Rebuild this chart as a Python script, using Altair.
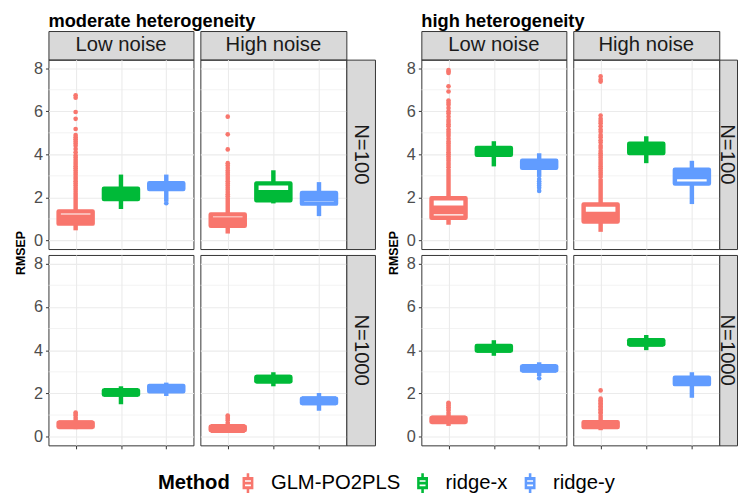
import altair as alt
import pandas as pd

FONT = "Liberation Sans"
METHODS = ["GLM-PO2PLS", "ridge-x", "ridge-y"]
COLORS = ["#F8766D", "#00BA38", "#619CFF"]
GROUPS = ["moderate heterogeneity", "high heterogeneity"]
SIZES = ["N=100", "N=1000"]
NOISES = ["Low noise", "High noise"]
Y_TICKS = [0, 2, 4, 6, 8]
Y_MINOR = [1, 3, 5, 7]

# order: group > size > noise > method
LOWER = [0.47, 1.46, 1.80,  0.32, 1.72, 1.13,
         0.35, 1.50, 1.88,  0.20, 2.33, 1.20,
         0.73, 3.44, 2.95,  0.40, 3.59, 1.69,
         0.50, 3.74, 2.80,  0.30, 4.00, 1.80]
Q1 = [0.78, 1.92, 2.39,  0.68, 1.87, 1.71,
      0.46, 1.95, 2.10,  0.31, 2.56, 1.56,
      1.05, 3.98, 3.38,  0.88, 4.06, 2.64,
      0.69, 3.98, 3.07,  0.45, 4.27, 2.43]
MEDIAN = [1.00, 2.15, 2.50,  0.87, 2.14, 2.03,
          0.55, 2.05, 2.22,  0.38, 2.66, 1.66,
          1.42, 4.10, 3.50,  1.13, 4.25, 3.05,
          0.78, 4.08, 3.16,  0.56, 4.36, 2.58]
Q3 = [1.35, 2.40, 2.66,  1.21, 2.65, 2.20,
      0.65, 2.14, 2.35,  0.46, 2.76, 1.76,
      1.96, 4.30, 3.70,  1.67, 4.49, 3.29,
      0.87, 4.19, 3.25,  0.67, 4.46, 2.73]
UPPER = [2.20, 3.06, 3.06,  2.00, 3.26, 2.71,
         0.93, 2.33, 2.50,  0.68, 2.98, 2.02,
         3.33, 4.61, 4.05,  2.86, 4.84, 3.70,
         1.14, 4.46, 3.44,  1.00, 4.70, 2.98]

OUT_MOD_100_LOW_GLM = [2.25, 2.35, 2.45, 2.55, 2.65, 2.75, 2.85, 2.95, 3.05, 3.15, 3.25,
                       3.35, 3.45, 3.55, 3.65, 3.75, 3.85, 3.95, 4.1, 4.25, 4.4, 4.5,
                       4.6, 4.7, 4.8, 4.9, 5.18, 5.65, 5.97, 6.63, 6.74]
OUT_MOD_100_LOW_RY = [1.73]
OUT_MOD_100_HIGH_GLM = [2.05, 2.15, 2.25, 2.35, 2.45, 2.55, 2.65, 2.75, 2.85, 2.95, 3.05,
                        3.15, 3.25, 3.36, 3.48, 3.59, 4.23, 4.93, 5.75]
OUT_MOD_1000_LOW_GLM = [0.98, 1.05, 1.12]
OUT_MOD_1000_HIGH_GLM = [0.75, 0.83, 0.91, 0.98]
OUT_HIGH_100_LOW_GLM = [3.4, 3.5, 3.6, 3.7, 3.8, 3.9, 4.0, 4.1, 4.2, 4.3, 4.4, 4.5, 4.6,
                        4.72, 4.85, 4.95, 5.05, 5.15, 5.3, 5.4, 5.5, 5.6, 5.75, 5.9, 6.0,
                        6.15, 6.3, 6.4, 6.5, 6.92, 7.16, 7.78, 7.85, 7.92]
OUT_HIGH_100_LOW_RY = [2.85, 2.75, 2.65, 2.55, 2.45, 2.3]
OUT_HIGH_100_HIGH_GLM = [2.95, 3.05, 3.15, 3.25, 3.35, 3.45, 3.55, 3.65, 3.75, 3.85, 3.95,
                         4.05, 4.15, 4.3, 4.4, 4.55, 4.65, 4.8, 4.9, 5.05, 5.15, 5.3, 5.45,
                         5.55, 5.65, 5.8, 7.38, 7.47, 7.62]
OUT_HIGH_1000_LOW_GLM = [1.2, 1.28, 1.36, 1.44, 1.52, 1.57]
OUT_HIGH_1000_LOW_RY = [2.7]
OUT_HIGH_1000_HIGH_GLM = [1.06, 1.13, 1.2, 1.27, 1.34, 1.41, 1.48, 1.55, 1.62, 1.69, 1.76, 2.14]

OUTLIERS = {
    (0, 0, 0, 0): OUT_MOD_100_LOW_GLM,
    (0, 0, 0, 2): OUT_MOD_100_LOW_RY,
    (0, 0, 1, 0): OUT_MOD_100_HIGH_GLM,
    (0, 1, 0, 0): OUT_MOD_1000_LOW_GLM,
    (0, 1, 1, 0): OUT_MOD_1000_HIGH_GLM,
    (1, 0, 0, 0): OUT_HIGH_100_LOW_GLM,
    (1, 0, 0, 2): OUT_HIGH_100_LOW_RY,
    (1, 0, 1, 0): OUT_HIGH_100_HIGH_GLM,
    (1, 1, 0, 0): OUT_HIGH_1000_LOW_GLM,
    (1, 1, 0, 2): OUT_HIGH_1000_LOW_RY,
    (1, 1, 1, 0): OUT_HIGH_1000_HIGH_GLM,
}

rows = []
i = 0
for gi, g in enumerate(GROUPS):
    for si, s in enumerate(SIZES):
        for ni, nz in enumerate(NOISES):
            for mi, m in enumerate(METHODS):
                rows.append(dict(group=g, nsize=s, noise=nz, method=m, lo=LOWER[i],
                                 q1=Q1[i], med=MEDIAN[i], q3=Q3[i], hi=UPPER[i]))
                i += 1
box_df = pd.DataFrame(rows)

orows = []
for (gi, si, ni, mi), vals in OUTLIERS.items():
    for v in vals:
        orows.append(dict(group=GROUPS[gi], nsize=SIZES[si], noise=NOISES[ni],
                          method=METHODS[mi], v=v))
out_df = pd.DataFrame(orows)

GRID = "#EBEBEB"
BORDER = "#333333"
STRIP_FILL = "#D9D9D9"
BOXW = 34.5
LW = 4.5

SYMBOL = ("M-0.55,-0.62L0.55,-0.62L0.55,0.62L-0.55,0.62Z"
          "M-0.3,-0.3L-0.3,0.3L0.3,0.3L0.3,-0.3Z"
          "M-0.3,-0.14L0.3,-0.14L0.3,0.14L-0.3,0.14Z"
          "M-0.13,-1L0.13,-1L0.13,-0.62L-0.13,-0.62Z"
          "M-0.13,0.62L0.13,0.62L0.13,1L-0.13,1Z")

LEGEND = alt.Legend(title="Method", orient="none", legendX=111, legendY=467,
                    direction="horizontal", titleOrient="left",
                    titleFont=FONT, titleFontSize=20.5, titleFontWeight="bold",
                    titleColor="black", labelFont=FONT, labelFontSize=20.5,
                    labelColor="black", symbolType=SYMBOL, symbolSize=400,
                    symbolStrokeWidth=0, symbolOpacity=1, labelOffset=13,
                    columnPadding=12, titlePadding=8, padding=0)

cscale = alt.Scale(domain=METHODS, range=COLORS)


def panel(gi, si, ni, w, h):
    g, s, nz = GROUPS[gi], SIZES[si], NOISES[ni]
    b = box_df[(box_df.group == g) & (box_df.nsize == s) & (box_df.noise == nz)]
    o = out_df[(out_df.group == g) & (out_df.nsize == s) & (out_df.noise == nz)]
    if len(o) == 0:
        o = pd.DataFrame({"method": pd.Series([], dtype=str), "v": pd.Series([], dtype=float)})
    left = ni == 0
    bottom = si == 1
    xs = alt.Scale(type="point", domain=METHODS, padding=0.6)
    ys = alt.Scale(domain=[-0.4, 8.4], nice=False, zero=False)
    xaxis = alt.Axis(title=None, labels=False, domain=False, grid=True,
                     gridColor=GRID, gridWidth=1.1, ticks=bottom, tickSize=3.5,
                     tickColor=BORDER, tickWidth=1)
    if left:
        ykw = dict(values=Y_TICKS, grid=True, gridColor=GRID, gridWidth=1.1,
                   domain=False, ticks=True, tickSize=3, tickColor=BORDER,
                   tickWidth=1, labelFont=FONT, labelFontSize=16.5,
                   labelColor="#4D4D4D", labelPadding=3)
        if si == 0:
            ykw.update(title="RMSEP", titleFont=FONT, titleFontSize=12.5,
                       titleFontWeight="bold", titleColor="black", titleX=-24,
                       titleY=195.5, titleBaseline="alphabetic", titleAlign="center")
        else:
            ykw.update(title=None)
        yaxis = alt.Axis(**ykw)
    else:
        yaxis = alt.Axis(values=Y_TICKS, grid=True, gridColor=GRID, gridWidth=1.1,
                         domain=False, ticks=False, labels=False, title=None)

    def X():
        return alt.X("method:N", scale=xs, axis=xaxis)

    def Y(f):
        return alt.Y(f, scale=ys, axis=yaxis)

    minor = alt.Chart(pd.DataFrame({"v": Y_MINOR})).mark_rule(
        color=GRID, strokeWidth=0.6).encode(y=Y("v:Q"))
    outl = alt.Chart(o).mark_circle(size=22, opacity=1).encode(
        x=X(), y=Y("v:Q"),
        color=alt.Color("method:N", scale=cscale, legend=LEGEND))
    wlo = alt.Chart(b).mark_rule(strokeWidth=LW).encode(
        x=X(), y=Y("lo:Q"), y2="q1:Q",
        color=alt.Color("method:N", scale=cscale, legend=None))
    whi = alt.Chart(b).mark_rule(strokeWidth=LW).encode(
        x=X(), y=Y("q3:Q"), y2="hi:Q",
        color=alt.Color("method:N", scale=cscale, legend=None))
    box = alt.Chart(b).mark_bar(width=BOXW, fill="white", strokeWidth=LW,
                                strokeJoin="round", opacity=1).encode(
        x=X(), y=Y("q1:Q"), y2="q3:Q",
        stroke=alt.Stroke("method:N", scale=cscale, legend=None))
    med = alt.Chart(b).mark_tick(thickness=9, size=BOXW, opacity=1).encode(
        x=X(), y=Y("med:Q"),
        color=alt.Color("method:N", scale=cscale, legend=None))
    return alt.layer(minor, outl, wlo, whi, box, med).properties(width=w, height=h)


def title_cell(label, w, h):
    return alt.Chart(pd.DataFrame({"t": [label]})).mark_text(
        font=FONT, fontSize=18.5, fontWeight="bold", color="black", align="left",
        baseline="top"
    ).encode(text="t:N", x=alt.value(0), y=alt.value(0)).properties(
        width=w, height=h,
        view=alt.ViewBackground(stroke="transparent", fill="transparent"))


def top_strip(label, w):
    c = alt.Chart(pd.DataFrame({"t": [label]})).mark_text(
        font=FONT, fontSize=20.5, color="#1A1A1A", align="center", baseline="middle"
    ).encode(text="t:N", x=alt.value(w / 2), y=alt.value(14.5))
    return c.properties(width=w, height=29,
                        view=alt.ViewBackground(fill=STRIP_FILL, stroke=BORDER, strokeWidth=1))


def right_strip(label, h, w, tx):
    c = alt.Chart(pd.DataFrame({"t": [label]})).mark_text(
        font=FONT, fontSize=20.5, color="#1A1A1A", align="center", baseline="middle",
        angle=90
    ).encode(text="t:N", x=alt.value(tx), y=alt.value(h / 2))
    return c.properties(width=w, height=h,
                        view=alt.ViewBackground(fill=STRIP_FILL, stroke=BORDER, strokeWidth=1))


def blank(w, h):
    return alt.Chart(pd.DataFrame({"z": [0]})).mark_point(opacity=0, size=1).encode(
        x=alt.value(0), y=alt.value(0)
    ).properties(width=w, height=h,
                 view=alt.ViewBackground(stroke="transparent", fill="transparent"))


PW1, PW2, GAP, GGAP = 147, 148, 7, 47
SWS = [29, 18]      # right strip widths (the page edge cuts the second one)
STX = [14.5, 7.5]   # text centre inside each right strip
H1, H2, RGAP, TH = 192, 193, 6, 19

cells = []
# title row
for gi in range(2):
    cells += [title_cell(GROUPS[gi], PW1, TH), blank(GAP, 1), blank(PW2, 1), blank(1, 1)]
    if gi == 0:
        cells.append(blank(GGAP, 1))
# strip row
for gi in range(2):
    cells += [top_strip(NOISES[0], PW1), blank(GAP, 1),
              top_strip(NOISES[1], PW2), blank(1, 1)]
    if gi == 0:
        cells.append(blank(GGAP, 1))
# row N=100
for gi in range(2):
    cells += [panel(gi, 0, 0, PW1, H1), blank(GAP, 1), panel(gi, 0, 1, PW2, H1),
              right_strip(SIZES[0], H1, SWS[gi], STX[gi])]
    if gi == 0:
        cells.append(blank(GGAP, 1))
# gap row
cells += [blank(1, RGAP) for _ in range(9)]
# row N=1000
for gi in range(2):
    cells += [panel(gi, 1, 0, PW1, H2), blank(GAP, 1), panel(gi, 1, 1, PW2, H2),
              right_strip(SIZES[1], H2, SWS[gi], STX[gi])]
    if gi == 0:
        cells.append(blank(GGAP, 1))

chart = alt.concat(*cells, columns=9, spacing=0, align="each", bounds="flush").properties(
    padding={"left": 6, "top": 0, "right": 0, "bottom": 0}
).configure(font=FONT).configure_view(stroke=BORDER, strokeWidth=1)

chart.save("out.html", embed_options={"renderer": "svg", "actions": False})
